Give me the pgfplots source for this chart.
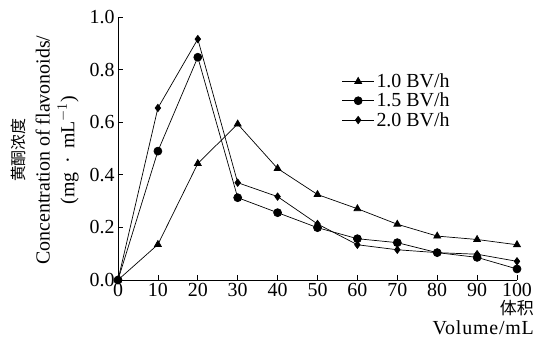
\documentclass[border=0pt]{standalone}
\usepackage{fontspec}
\setmainfont{Liberation Serif}
\newfontfamily\cjk{Noto Sans CJK SC}
\usepackage{pgfplots}
\pgfplotsset{compat=1.18}
\begin{document}
\begin{tikzpicture}
\begin{axis}[
  scale only axis, width=399bp, height=263bp,
  xmin=0, xmax=100, ymin=0, ymax=1,
  axis lines=left, axis line style={-, line width=0.7bp},
  tick style={line width=0.7bp, black}, major tick length=5bp,
  tick align=inside,
  xtick={0,10,...,100}, ytick={0,0.2,0.4,0.6,0.8,1.0},
  /pgf/number format/assume math mode=true,
  yticklabel style={/pgf/number format/.cd,fixed,fixed zerofill,precision=1},
  tick label style={font=\fontsize{20}{21}\selectfont},
  clip=false,
  every axis plot/.append style={black, line width=0.7bp,
    legend image code/.code={\draw[mark repeat=2,mark phase=2] plot coordinates {(0bp,0bp)(16bp,0bp)(32bp,0bp)};}},
  legend style={draw=none, fill=none, at={(rel axis cs:0.553,0.80)}, anchor=north west,
    font=\fontsize{20}{21}\selectfont, row sep=0bp,
    /tikz/every even column/.append style={column sep=2bp}},
  legend cell align=left,
]
\addplot[mark=triangle*, mark size=4bp] coordinates {
(0,0) (10,0.135) (20,0.443) (30,0.593) (40,0.424) (50,0.325) (60,0.271) (70,0.212) (80,0.167) (90,0.154) (100,0.134)};
\addlegendentry{1.0 BV/h}
\addplot[mark=*, mark size=4bp] coordinates {
(0,0) (10,0.49) (20,0.847) (30,0.313) (40,0.256) (50,0.199) (60,0.157) (70,0.142) (80,0.104) (90,0.086) (100,0.042)};
\addlegendentry{1.5 BV/h}
\addplot[mark=diamond*, mark size=3.7bp] coordinates {
(0,0) (10,0.654) (20,0.916) (30,0.37) (40,0.317) (50,0.213) (60,0.134) (70,0.115) (80,0.104) (90,0.098) (100,0.071)};
\addlegendentry{2.0 BV/h}
\coordinate (O) at (rel axis cs:0,0);
\node[rotate=90, align=center, font=\fontsize{20}{25}\selectfont] at (rel axis cs:-0.183,0.494)
  {{\cjk\fontsize{16}{25}\selectfont 黄酮浓度}\\Concentration of flavonoids/\\(mg \,·\, mL$^{-1}$)};
\node[anchor=north east, align=right, inner sep=0pt, font=\fontsize{20}{20}\selectfont] at (rel axis cs:1.0426,-0.075)
  {{\cjk\fontsize{17}{20}\selectfont 体积}\\\addfontfeatures{LetterSpace=4}Volume/mL};
\end{axis}
\pgfresetboundingbox
\path (O) ++(-118bp,-65bp) rectangle ++(534bp,345bp);
\end{tikzpicture}
\end{document}
